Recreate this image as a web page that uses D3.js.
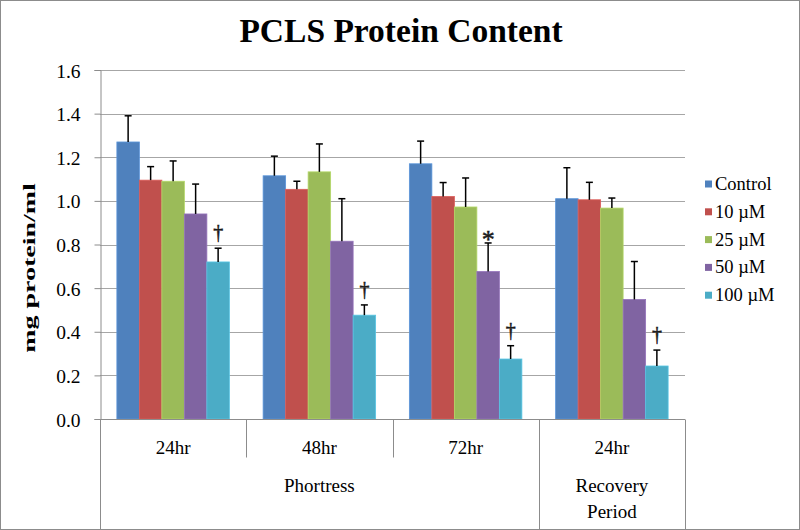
<!DOCTYPE html>
<html>
<head>
<meta charset="utf-8">
<script src="https://cdn.jsdelivr.net/npm/d3@7"></script>
<style>
  body { margin: 0; background: #fff; }
  svg { display: block; }
  svg text { font-family: "Liberation Serif", "Times New Roman", serif; fill: #000; }
</style>
</head>
<body>
<div id="chart"></div>
<script>
// categories, two levels
var periods = ['24hr', '48hr', '72hr', '24hr'];
var phases = [
  { label: ['Phortress'], from: 0, to: 2 },
  { label: ['Recovery', 'Period'], from: 3, to: 3 }
];
var series = ['Control', '10 µM', '25 µM', '50 µM', '100 µM'];
var colors = ['#4f81bd', '#c0504d', '#9bbb59', '#8064a2', '#4bacc6'];

// means per series (one per period)
var control = [1.27, 1.115, 1.17, 1.01];
var uM10 = [1.095, 1.053, 1.02, 1.005];
var uM25 = [1.09, 1.133, 0.972, 0.967];
var uM50 = [0.94, 0.815, 0.676, 0.548];
var uM100 = [0.72, 0.476, 0.275, 0.243];

// upper error (SD)
var errControl = [0.12, 0.09, 0.104, 0.142];
var errUM10 = [0.062, 0.037, 0.064, 0.08];
var errUM25 = [0.093, 0.128, 0.133, 0.046];
var errUM50 = [0.137, 0.195, 0.131, 0.174];
var errUM100 = [0.063, 0.047, 0.061, 0.073];

// significance marks: [period index, series index, symbol]
var marks = [[0, 4, '†'], [1, 4, '†'], [2, 3, '*'], [2, 4, '†'], [3, 4, '†']];

var yTicks = [0, 0.2, 0.4, 0.6, 0.8, 1.0, 1.2, 1.4, 1.6];

var values = [control, uM10, uM25, uM50, uM100];
var errors = [errControl, errUM10, errUM25, errUM50, errUM100];

var W = 800, H = 530;
var margin = { left: 100, right: 115, top: 70, bottom: 111 };
var serif = '"Liberation Serif", "Times New Roman", serif';

var svg = d3.select('#chart').append('svg')
  .attr('width', W).attr('height', H);

svg.append('rect')
  .attr('x', 0.5).attr('y', 0.5).attr('width', W - 1).attr('height', H - 1)
  .attr('fill', '#fff').attr('stroke', '#8c8c8c');

var x0 = d3.scaleBand()
  .domain(d3.range(periods.length))
  .range([margin.left, W - margin.right]);

var x1 = d3.scaleBand()
  .domain(d3.range(series.length))
  .range([0, x0.bandwidth()])
  .paddingOuter(0.75);

var y = d3.scaleLinear()
  .domain([0, 1.6])
  .range([H - margin.bottom, margin.top]);

// gridlines
svg.append('g')
  .selectAll('line')
  .data(yTicks.slice(1))
  .join('line')
  .attr('x1', margin.left).attr('x2', W - margin.right)
  .attr('y1', function(d){ return Math.round(y(d)) + 0.5; })
  .attr('y2', function(d){ return Math.round(y(d)) + 0.5; })
  .attr('stroke', '#a6a6a6').attr('stroke-width', 1);

// y axis
var yAxis = svg.append('g')
  .attr('transform', 'translate(' + (margin.left + 0.5) + ',0)')
  .call(d3.axisLeft(y).tickValues(yTicks).tickFormat(d3.format('.1f')).tickSize(6).tickPadding(14));
yAxis.attr('font-family', serif).attr('font-size', 19.5);
yAxis.select('.domain').attr('stroke', '#8c8c8c');
yAxis.selectAll('.tick line').attr('stroke', '#8c8c8c');
yAxis.selectAll('text').attr('fill', '#000').attr('dy', '0.36em');

// bars
var groups = svg.append('g')
  .selectAll('g')
  .data(periods)
  .join('g')
  .attr('transform', function(d, i){ return 'translate(' + x0(i) + ',0)'; });

groups.each(function(p, gi){
  var g = d3.select(this);
  series.forEach(function(s, si){
    var v = values[si][gi], e = errors[si][gi];
    var cx = x1(si) + x1.bandwidth() / 2;
    g.append('rect')
      .attr('x', x1(si))
      .attr('y', y(v))
      .attr('width', x1.bandwidth())
      .attr('height', y(0) - y(v))
      .attr('fill', colors[si])
      .attr('stroke', d3.color(colors[si]).brighter(0.4))
      .attr('stroke-width', 0.8);
    g.append('line')
      .attr('x1', cx).attr('x2', cx)
      .attr('y1', y(v)).attr('y2', y(v + e))
      .attr('stroke', '#000').attr('stroke-width', 1.5);
    g.append('line')
      .attr('x1', cx - 3.5).attr('x2', cx + 3.5)
      .attr('y1', y(v + e)).attr('y2', y(v + e))
      .attr('stroke', '#000').attr('stroke-width', 1.5);
  });
});

// significance symbols
svg.append('g')
  .selectAll('text')
  .data(marks)
  .join('text')
  .attr('x', function(m){ return x0(m[0]) + x1(m[1]) + x1.bandwidth() / 2; })
  .attr('y', function(m){ return y(values[m[1]][m[0]] + errors[m[1]][m[0]]) + (m[2] === '*' ? 5 : -9); })
  .attr('text-anchor', 'middle')
  .attr('font-family', serif)
  .attr('font-size', function(m){ return m[2] === '*' ? 26 : 20; })
  .style('fill', '#1a1a1a')
  .style('stroke', '#1a1a1a')
  .style('stroke-width', 0.5)
  .text(function(m){ return m[2]; });

// category axis
var base = Math.round(y(0)) + 0.5;
var axisG = svg.append('g').attr('stroke', '#8c8c8c').attr('stroke-width', 1);
axisG.append('line')
  .attr('x1', margin.left).attr('x2', W - margin.right)
  .attr('y1', base).attr('y2', base);

var edges = d3.range(periods.length + 1).map(function(i){
  return i < periods.length ? x0(i) : x0(periods.length - 1) + x0.bandwidth();
});
var phaseEdges = [0, 3, 4];
edges.forEach(function(ex, i){
  var long = phaseEdges.indexOf(i) >= 0;
  axisG.append('line')
    .attr('x1', Math.round(ex) + 0.5).attr('x2', Math.round(ex) + 0.5)
    .attr('y1', base).attr('y2', long ? H - 1 : base + 38);
});

svg.append('g')
  .selectAll('text')
  .data(periods)
  .join('text')
  .attr('x', function(d, i){ return x0(i) + x0.bandwidth() / 2; })
  .attr('y', base + 34)
  .attr('text-anchor', 'middle')
  .attr('font-family', serif)
  .attr('font-size', 19)
  .text(function(d){ return d; });

phases.forEach(function(ph){
  var cx = (x0(ph.from) + x0(ph.to) + x0.bandwidth()) / 2;
  ph.label.forEach(function(line, li){
    svg.append('text')
      .attr('x', cx)
      .attr('y', base + 72 + li * 26)
      .attr('text-anchor', 'middle')
      .attr('font-family', serif)
      .attr('font-size', 19)
      .text(line);
  });
});

// title
svg.append('text')
  .attr('x', 401).attr('y', 42)
  .attr('text-anchor', 'middle')
  .attr('font-family', serif)
  .attr('font-size', 33.5).attr('font-weight', 'bold')
  .text('PCLS Protein Content');

// y label (narrow, tall lettering as in the original)
svg.append('text')
  .attr('transform', 'translate(35,268) rotate(-90) scale(1,0.62)')
  .attr('text-anchor', 'middle')
  .attr('font-family', serif)
  .attr('font-size', 28).attr('font-weight', 'bold')
  .text('mg protein/ml');

// legend
var legend = svg.append('g')
  .selectAll('g')
  .data(series)
  .join('g')
  .attr('transform', function(d, i){ return 'translate(705,' + (184 + i * 27.8) + ')'; });
legend.append('rect')
  .attr('y', -3.5)
  .attr('width', 7).attr('height', 7)
  .attr('fill', function(d, i){ return colors[i]; });
legend.append('text')
  .attr('x', 10).attr('y', 6)
  .attr('font-family', serif)
  .attr('font-size', 18.5)
  .text(function(d){ return d; });
</script>
</body>
</html>
